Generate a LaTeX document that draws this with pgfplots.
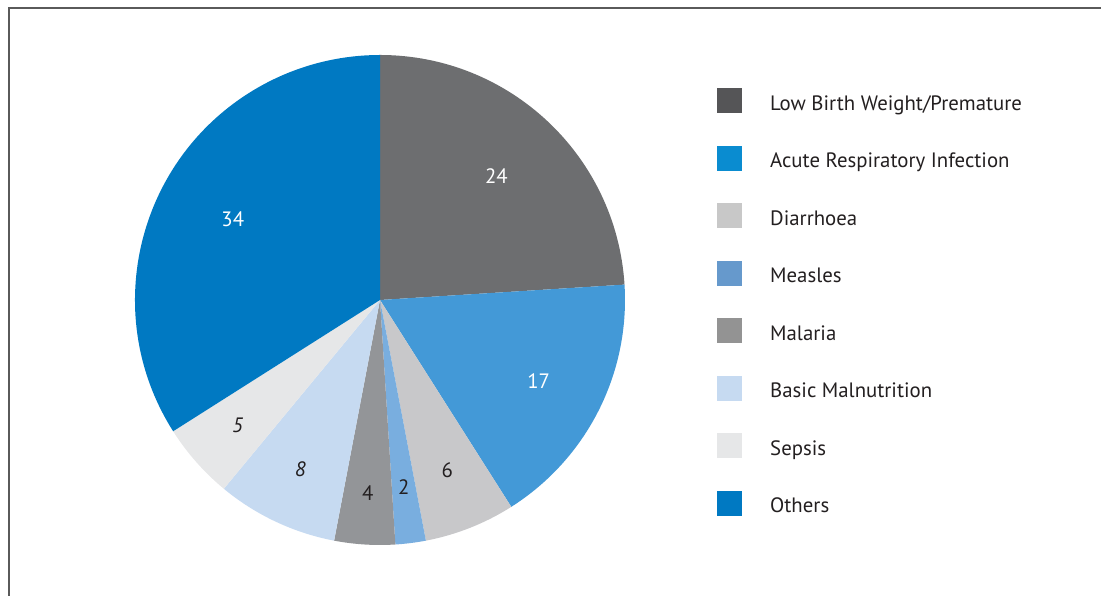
\documentclass[border=0pt]{standalone}
\usepackage{fontspec}
\setmainfont{PT Sans}
\usepackage{pgfplots}
\usepackage{pgfplotstable}
\pgfplotsset{compat=1.18}
\definecolor{sA}{HTML}{6D6E70}
\definecolor{sB}{HTML}{4399D7}
\definecolor{sC}{HTML}{C8C8CA}
\definecolor{sD}{HTML}{79AEDF}
\definecolor{sE}{HTML}{939598}
\definecolor{sF}{HTML}{C6DAF1}
\definecolor{sG}{HTML}{E6E7E8}
\definecolor{sH}{HTML}{0079C2}
\definecolor{lA}{HTML}{555557}
\definecolor{lB}{HTML}{0A8CD0}
\definecolor{lC}{HTML}{C8C8C8}
\definecolor{lD}{HTML}{6699CC}
\definecolor{lE}{HTML}{939393}
\definecolor{lF}{HTML}{C6DAF1}
\definecolor{lG}{HTML}{E6E7E8}
\definecolor{lH}{HTML}{0079C2}
\definecolor{txt}{HTML}{231F20}
\definecolor{frame}{HTML}{5A5A5A}
\tikzset{labn/.style={font=\fontsize{20.8}{25}\selectfont\upshape},
         labi/.style={font=\fontsize{20.8}{25}\selectfont\itshape}}
\pgfplotstableread[col sep=comma]{
name,value,labr,slice,legc,labc,labs
Low Birth Weight/Premature,24,170,sA,lA,white,labn
Acute Respiratory Infection,17,178,sB,lB,white,labn
Diarrhoea,6,183,sC,lC,txt,labn
Measles,2,189,sD,lD,txt,labn
Malaria,4,194,sE,lE,txt,labn
Basic Malnutrition,8,187,sF,lF,txt,labi
Sepsis,5,190,sG,lG,txt,labi
Others,34,168,sH,lH,white,labn
}\data
\begin{document}
\begin{tikzpicture}
\begin{axis}[x=1pt,y=1pt,xmin=0,xmax=1101,ymin=0,ymax=596,
  hide axis,scale only axis,clip=false]
\coordinate (SW) at (axis cs:0,0);
\coordinate (NE) at (axis cs:1101,596);
\draw[frame,line width=2pt] (axis cs:8.5,0) -- (axis cs:8.5,587.5) -- (axis cs:1101,587.5);
\gdef\angA{90}
\pgfplotsinvokeforeach{0,...,7}{
  \pgfplotstablegetelem{#1}{value}\of\data \let\v\pgfplotsretval
  \pgfplotstablegetelem{#1}{labr}\of\data \let\lr\pgfplotsretval
  \pgfplotstablegetelem{#1}{slice}\of\data \let\sc\pgfplotsretval
  \pgfplotstablegetelem{#1}{legc}\of\data \let\lc\pgfplotsretval
  \pgfplotstablegetelem{#1}{labc}\of\data \let\tc\pgfplotsretval
  \pgfplotstablegetelem{#1}{labs}\of\data \let\ts\pgfplotsretval
  \pgfplotstablegetelem{#1}{name}\of\data \let\nm\pgfplotsretval
  \pgfmathsetmacro\angB{\angA-3.6*\v}
  \pgfmathsetmacro\mid{(\angA+\angB)/2}
  \pgfmathsetmacro\lx{380+\lr*cos(\mid)}
  \pgfmathsetmacro\ly{296+\lr*sin(\mid)}
  \pgfmathsetmacro\top{596-88.3-57.5*#1}
  \pgfmathsetmacro\bot{\top-25}
  \pgfmathsetmacro\base{\top-22}
  \edef\tmp{\noexpand\fill[\sc] (axis cs:380,296) -- ++(\angA:245pt) arc[start angle=\angA, end angle=\angB, radius=245pt] -- cycle;
    \noexpand\node[\ts,text=\tc,inner sep=0pt,anchor=center] at (axis cs:\lx,\ly) {\v};
    \noexpand\fill[\lc] (axis cs:717,\top) rectangle (axis cs:742,\bot);
    \noexpand\node[labn,text=txt,inner sep=0pt,anchor=base west] at (axis cs:770,\base) {\nm};}
  \tmp
  \xdef\angA{\angB}
}
\end{axis}
\pgfresetboundingbox
\useasboundingbox (SW) rectangle (NE);
\end{tikzpicture}
\end{document}
